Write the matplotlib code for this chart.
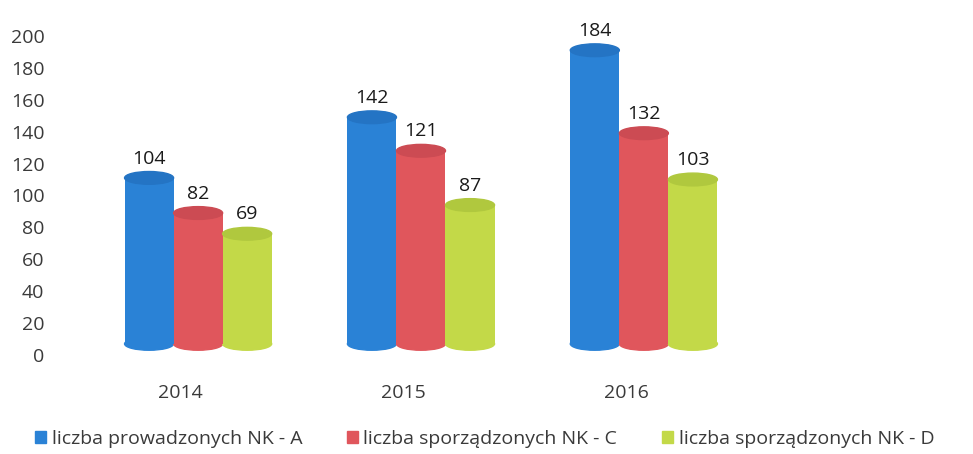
import numpy as np
import matplotlib
matplotlib.use("Agg")
import matplotlib.pyplot as plt
from matplotlib.patches import Ellipse, Patch

# data
years = ['2014', '2015', '2016']
series_names = ['liczba prowadzonych NK - A',
                'liczba sporządzonych NK - C',
                'liczba sporządzonych NK - D']
nk_a = [104, 142, 184]
nk_c = [82, 121, 132]
nk_d = [69, 87, 103]
data = [nk_a, nk_c, nk_d]

colors = ['#2a82d6', '#e0565c', '#c3d948']
tops = ['#2474c4', '#cc4b53', '#b0c83e']

plt.rcParams['font.family'] = ['Open Sans', 'DejaVu Sans']

fig = plt.figure(figsize=(9.73, 4.54), dpi=100)
ax = fig.add_axes([0.057, 0.218, 0.93, 0.703])

x = np.arange(len(years))
width = 0.22
base = 7      # 3d floor offset
cap = 8       # ellipse height in data units

for i, (vals, c, tc) in enumerate(zip(data, colors, tops)):
    xs = x + (i - 1) * width
    ax.bar(xs, vals, width=width, bottom=base, color=c, zorder=2)
    for xi, v in zip(xs, vals):
        ax.add_patch(Ellipse((xi, base), width, cap, color=c, zorder=1))
        ax.add_patch(Ellipse((xi, base + v), width, cap, color=tc, zorder=3))
        ax.text(xi, base + v + cap / 2 + 2.5, str(v), ha='center', va='bottom',
                fontsize=14, color='#1a1a1a')

ax.set_xlim(-0.64, 3.42)
ax.set_ylim(0, 200)
ax.set_yticks(np.arange(0, 201, 20))
ax.set_xticks(x - 0.08)
ax.set_xticklabels(years)
ax.tick_params(length=0, labelsize=14, colors='#3a3a3a')
ax.tick_params(axis='x', pad=21)
ax.tick_params(axis='y', pad=8)
for s in ax.spines.values():
    s.set_visible(False)

handles = [Patch(color=c) for c in colors]
fig.legend(handles, series_names, loc='lower left', bbox_to_anchor=(0.018, -0.025),
           ncol=3, frameon=False, fontsize=14, handlelength=0.55, handleheight=0.55,
           handletextpad=0.3, columnspacing=2.3, labelcolor='#3a3a3a')

fig.savefig('out.png', dpi=100)
